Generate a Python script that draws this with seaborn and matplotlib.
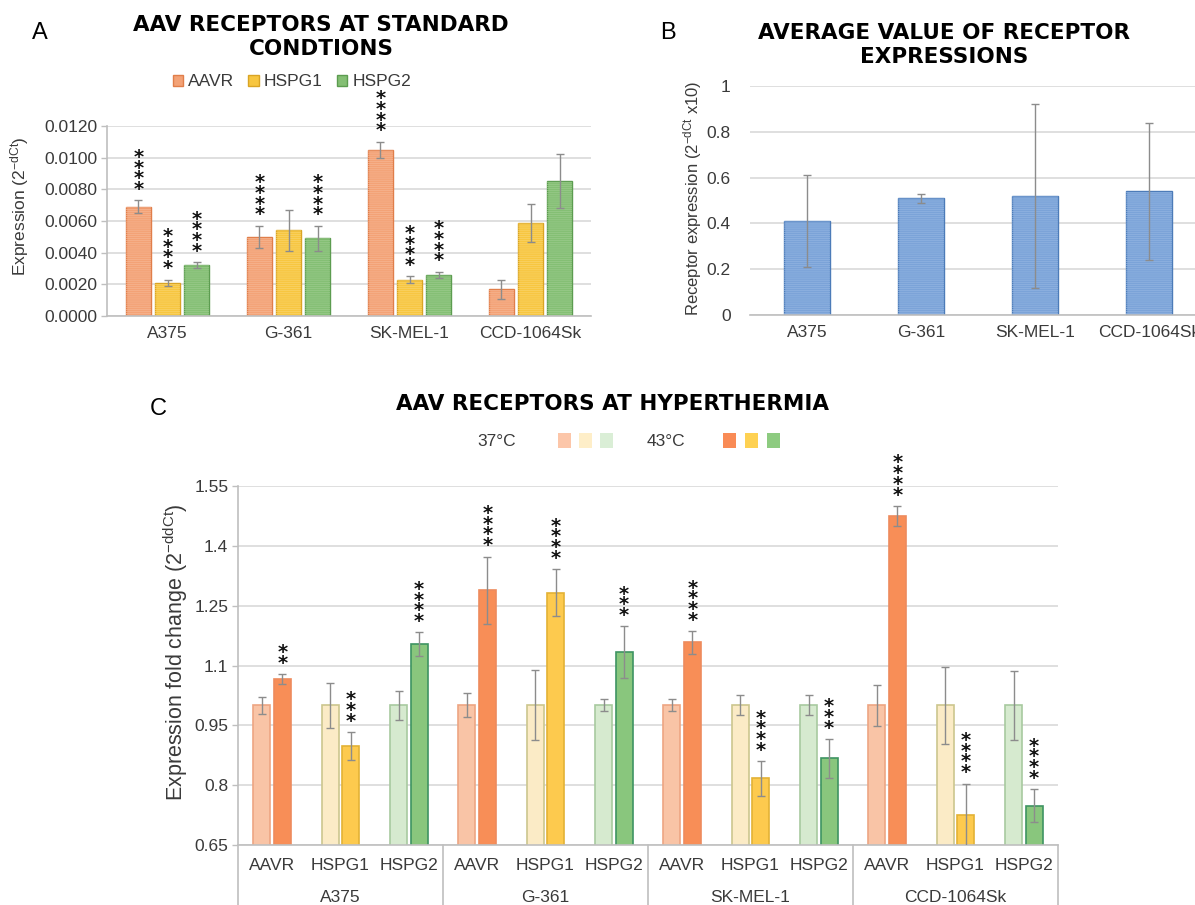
import numpy as np
import pandas as pd
import matplotlib
matplotlib.use("Agg")
import matplotlib.pyplot as plt
import matplotlib.transforms as mtransforms
from matplotlib.patches import Rectangle, Patch
import seaborn as sns

# ---------------------------------------------------------------- data
cell_lines = ["A375", "G-361", "SK-MEL-1", "CCD-1064Sk"]
receptors = ["AAVR", "HSPG1", "HSPG2"]

# A: receptor expression (2^-dCt) at standard conditions, rows = cell lines
std_mean = [[0.0069, 0.0021, 0.0032],
            [0.0050, 0.0054, 0.0049],
            [0.0105, 0.0023, 0.0026],
            [0.0017, 0.0059, 0.0085]]
std_err = [[0.0004, 0.0002, 0.0002],
           [0.0007, 0.0013, 0.0008],
           [0.0005, 0.0002, 0.0002],
           [0.0006, 0.0012, 0.0017]]
std_stars = [["****", "****", "****"],
             ["****", "", "****"],
             ["****", "****", "****"],
             ["", "", ""]]

# B: average receptor expression (2^-dCt x10)
avg_mean = [0.41, 0.51, 0.52, 0.54]
avg_err = [0.20, 0.02, 0.40, 0.30]

# C: fold change (2^-ddCt) at 37 °C and 43 °C
temps = ["37°C", "43°C"]
fold_37 = [[1.0, 1.0, 1.0],
           [1.0, 1.0, 1.0],
           [1.0, 1.0, 1.0],
           [1.0, 1.0, 1.0]]
fold_37_err = [[0.022, 0.057, 0.036],
               [0.030, 0.088, 0.015],
               [0.015, 0.025, 0.025],
               [0.052, 0.097, 0.086]]
fold_43 = [[1.066, 0.898, 1.154],
           [1.289, 1.283, 1.133],
           [1.158, 0.817, 0.867],
           [1.475, 0.725, 0.749]]
fold_43_err = [[0.012, 0.035, 0.029],
               [0.084, 0.058, 0.065],
               [0.028, 0.043, 0.048],
               [0.025, 0.079, 0.041]]
fold_stars = [["**", "***", "****"],
              ["****", "****", "***"],
              ["****", "****", "***"],
              ["****", "****", "****"]]

# ---------------------------------------------------------------- style
sns.set_theme(style="white")
plt.rcParams["font.family"] = ["Liberation Sans", "DejaVu Sans"]
plt.rcParams["mathtext.fontset"] = "custom"
plt.rcParams["mathtext.rm"] = "Liberation Sans"
plt.rcParams["mathtext.it"] = "Liberation Sans:italic"
plt.rcParams["hatch.linewidth"] = 0.5

TXT = "#3A3A3A"
GRID = "#D9D9D9"
AXIS = "#BFBFBF"
ERR = "#8C8C8C"

rec_fill = ["#F3A276", "#F7C640", "#84BF74"]
rec_edge = ["#E07E4A", "#D9A425", "#5C9C50"]
rec_stripe = ["#F6B592", "#F9D36A", "#9ACB8C"]
blue_fill, blue_edge, blue_stripe = "#7BA3D8", "#4C7BB8", "#91B4E1"
c37_fill = ["#F9C4A6", "#FBEBC6", "#D6EACF"]
c37_edge = ["#EDA583", "#CCC68E", "#A8CA9F"]
c43_fill = ["#F88E57", "#FDCA4E", "#89C67D"]
c43_edge = ["#EE8B5E", "#E3B235", "#3E9462"]

W, H = 1195, 905
fig = plt.figure(figsize=(W / 100, H / 100), dpi=100)


def box(l, t, r, b):
    return [l / W, 1 - b / H, (r - l) / W, (b - t) / H]


def fx(px):
    return px / W


def fy(py):
    return 1 - py / H


def base_style(ax, left_spine=True):
    ax.set_axisbelow(True)
    ax.yaxis.grid(True, color=GRID, lw=1.2)
    ax.xaxis.grid(False)
    for s in ["top", "right"]:
        ax.spines[s].set_visible(False)
    ax.spines["left"].set_visible(left_spine)
    ax.spines["left"].set_color(AXIS)
    ax.spines["bottom"].set_color(AXIS)
    ax.spines["left"].set_linewidth(1.2)
    ax.spines["bottom"].set_linewidth(1.2)
    ax.tick_params(axis="y", length=4 if left_spine else 0, width=1, color=AXIS,
                   labelsize=12.5, labelcolor=TXT, pad=3, left=left_spine)
    ax.tick_params(axis="x", length=0, labelsize=12.5, labelcolor=TXT, pad=7)
    ax.set_xlabel("")
    ax.set_ylabel("")


def stripes(ax, p, color):
    ax.add_patch(Rectangle((p.get_x(), p.get_y()), p.get_width(), p.get_height(),
                           facecolor="none", edgecolor=color, linewidth=0,
                           hatch="--------", zorder=p.get_zorder() + 0.1))


def err_and_stars(ax, x, y, e, stars):
    ax.errorbar(x, y, yerr=e, fmt="none", ecolor=ERR, elinewidth=1,
                capsize=3, capthick=1, zorder=5)
    if stars:
        ax.annotate("\n".join(stars), xy=(x, y + e), xytext=(0, 1),
                    textcoords="offset points", ha="center", va="bottom",
                    fontsize=14, fontweight="bold", linespacing=0.45,
                    family="DejaVu Sans", color="#111111",
                    annotation_clip=False, zorder=6)


# ---------------------------------------------------------------- panel A
df_a = pd.DataFrame(
    [(c, r, std_mean[i][j]) for i, c in enumerate(cell_lines) for j, r in enumerate(receptors)],
    columns=["cell", "receptor", "value"])
axA = fig.add_axes(box(107, 126, 591, 316))
sns.barplot(data=df_a, x="cell", y="value", hue="receptor", order=cell_lines,
            hue_order=receptors, palette=dict(zip(receptors, rec_fill)),
            width=0.72, gap=0.17, errorbar=None, legend=False, linewidth=1, ax=axA)
bars = sorted(list(axA.patches), key=lambda p: p.get_x())
for k, p in enumerate(bars):
    i, j = divmod(k, 3)
    p.set_facecolor(rec_fill[j])
    p.set_edgecolor(rec_edge[j])
    stripes(axA, p, rec_stripe[j])
    err_and_stars(axA, p.get_x() + p.get_width() / 2, p.get_height(),
                  std_err[i][j], std_stars[i][j])
axA.set_xlim(-0.5, 3.5)
axA.set_ylim(0, 0.012)
axA.set_yticks(np.arange(0, 0.0121, 0.002))
axA.set_yticklabels([f"{v:.4f}" for v in np.arange(0, 0.0121, 0.002)])
base_style(axA)

fig.text(fx(20), fy(206), "Expression (2$^{\\mathrm{-dCt}}$)", rotation=90,
         ha="center", va="center", fontsize=12.5, color=TXT)
fig.text(fx(321), fy(37), "AAV RECEPTORS AT STANDARD\nCONDTIONS", ha="center",
         va="center", fontsize=15.5, fontweight="bold", family="DejaVu Sans",
         linespacing=1.2, color="black")
fig.text(fx(40), fy(33), "A", ha="center", va="center", fontsize=17, color="black")
handles = [Patch(facecolor=rec_fill[j], edgecolor=rec_edge[j]) for j in range(3)]
fig.legend(handles, receptors, loc="center", bbox_to_anchor=(fx(292), fy(82)),
           ncol=3, frameon=False, fontsize=12.5, handlelength=0.6, handleheight=0.6,
           handletextpad=0.3, columnspacing=0.8, borderaxespad=0, labelcolor=TXT)

# ---------------------------------------------------------------- panel B
df_b = pd.DataFrame({"cell": cell_lines, "value": avg_mean})
axB = fig.add_axes(box(750, 86, 1206, 315))
sns.barplot(data=df_b, x="cell", y="value", order=cell_lines, color=blue_fill,
            width=0.4, errorbar=None, linewidth=1, edgecolor=blue_edge, ax=axB)
bars = sorted(list(axB.patches), key=lambda p: p.get_x())
for i, p in enumerate(bars):
    p.set_facecolor(blue_fill)
    p.set_edgecolor(blue_edge)
    stripes(axB, p, blue_stripe)
    err_and_stars(axB, p.get_x() + p.get_width() / 2, p.get_height(), avg_err[i], "")
axB.set_xlim(-0.5, 3.5)
axB.set_ylim(0, 1)
axB.set_yticks(np.arange(0, 1.01, 0.2))
axB.set_yticklabels(["0", "0.2", "0.4", "0.6", "0.8", "1"])
base_style(axB, left_spine=False)
axB.tick_params(axis="y", pad=14)

fig.text(fx(693), fy(198), "Receptor expression (2$^{\\mathrm{-dCt}}$ x10)", rotation=90,
         ha="center", va="center", fontsize=12, color=TXT)
fig.text(fx(944), fy(45), "AVERAGE VALUE OF RECEPTOR\nEXPRESSIONS", ha="center",
         va="center", fontsize=15.5, fontweight="bold", family="DejaVu Sans",
         linespacing=1.2, color="black")
fig.text(fx(668), fy(33), "B", ha="center", va="center", fontsize=17, color="black")

# ---------------------------------------------------------------- panel C
slots = [f"{c} {r}" for c in cell_lines for r in receptors]
rows = []
for i, c in enumerate(cell_lines):
    for j, r in enumerate(receptors):
        rows.append((f"{c} {r}", temps[0], fold_37[i][j]))
        rows.append((f"{c} {r}", temps[1], fold_43[i][j]))
df_c = pd.DataFrame(rows, columns=["slot", "temp", "value"])
axC = fig.add_axes(box(238, 486, 1058, 845))
sns.barplot(data=df_c, x="slot", y="value", hue="temp", order=slots, hue_order=temps,
            palette=["#cccccc", "#999999"], width=0.6, gap=0.17, errorbar=None,
            legend=False, linewidth=1.2, ax=axC)
bars = sorted(list(axC.patches), key=lambda p: p.get_x())
for k, p in enumerate(bars):
    s, t = divmod(k, 2)
    i, j = divmod(s, 3)
    if t == 0:
        p.set_facecolor(c37_fill[j])
        p.set_edgecolor(c37_edge[j])
        val, e, st = fold_37[i][j], fold_37_err[i][j], ""
    else:
        p.set_facecolor(c43_fill[j])
        p.set_edgecolor(c43_edge[j])
        val, e, st = fold_43[i][j], fold_43_err[i][j], fold_stars[i][j]
    err_and_stars(axC, p.get_x() + p.get_width() / 2, val, e, st)
axC.set_xlim(-0.5, len(slots) - 0.5)
axC.set_ylim(0.65, 1.55)
cticks = [0.65, 0.8, 0.95, 1.1, 1.25, 1.4, 1.55]
axC.set_yticks(cticks)
axC.set_yticklabels(["0.65", "0.8", "0.95", "1.1", "1.25", "1.4", "1.55"])
base_style(axC)
axC.set_xticks(range(len(slots)))
axC.set_xticklabels(receptors * len(cell_lines))
axC.tick_params(axis="x", pad=9)

# grouped category axis: cell line names and separators under the receptor labels
trans = mtransforms.blended_transform_factory(axC.transData, axC.transAxes)
for i, c in enumerate(cell_lines):
    axC.text(3 * i + 1, -0.145, c, transform=trans, ha="center", va="center",
             fontsize=12.5, color=TXT)
for xb in np.arange(-0.5, len(slots), 3):
    axC.plot([xb, xb], [0, -0.2], transform=trans, color=AXIS, lw=1.2, clip_on=False)

fig.text(fx(176), fy(652), "Expression fold change (2$^{\\mathrm{-ddCt}}$)", rotation=90,
         ha="center", va="center", fontsize=15.5, color=TXT)
fig.text(fx(612), fy(404), "AAV RECEPTORS AT HYPERTHERMIA", ha="center", va="center",
         fontsize=15.5, fontweight="bold", family="DejaVu Sans", color="black")
fig.text(fx(158), fy(409), "C", ha="center", va="center", fontsize=17, color="black")

# temperature legend: label followed by the three receptor swatches
legend_items = [("37°C", 497, [558, 579, 600], ["#FCC6A9", "#FEEEC8", "#DAEED6"]),
                ("43°C", 666, [723, 745, 767], ["#F98B56", "#FED152", "#8DCB80"])]
for label, tx, xs, cols in legend_items:
    fig.text(fx(tx), fy(441), label, ha="center", va="center", fontsize=12.5, color=TXT)
    for x0, col in zip(xs, cols):
        fig.patches.append(Rectangle((fx(x0), fy(448)), 13 / W, 15 / H,
                                     transform=fig.transFigure, facecolor=col,
                                     edgecolor="none", figure=fig))

fig.savefig("out.png", dpi=100)
